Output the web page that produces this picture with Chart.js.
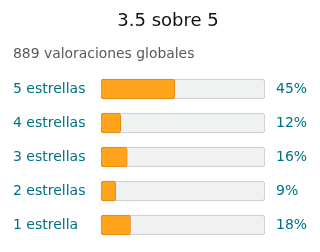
<!DOCTYPE html>
<html>
<head>
<meta charset="utf-8">
<script src="https://cdn.jsdelivr.net/npm/chart.js@4"></script>
<style>
  html, body { margin: 0; padding: 0; background: #fff; }
  #wrap { width: 320px; height: 252px; }
</style>
</head>
<body>
<div id="wrap"><canvas id="ratingChart"></canvas></div>
<script>
const titleText = '3.5 sobre 5';
const subtitleText = '889 valoraciones globales';
const starLabels = ['5 estrellas', '4 estrellas', '3 estrellas', '2 estrellas', '1 estrella'];
const percentValues = [45, 12, 16, 9, 18];
const trackValues = [100, 100, 100, 100, 100];
const percentLabels = percentValues.map(v => v + '%');

Chart.defaults.font.family = "'DejaVu Sans', sans-serif";

// draws the heading lines above the bars
const headerPlugin = {
  id: 'header',
  afterDraw(chart) {
    const ctx = chart.ctx;
    ctx.save();
    ctx.textBaseline = 'middle';
    ctx.fillStyle = '#0F1111';
    ctx.font = "18px 'DejaVu Sans', sans-serif";
    ctx.textAlign = 'center';
    ctx.fillText(titleText, 168, 21);
    ctx.fillStyle = '#565959';
    ctx.font = "13.9px 'DejaVu Sans', sans-serif";
    ctx.textAlign = 'left';
    ctx.fillText(subtitleText, 13, 54);
    ctx.restore();
  }
};

const ctx = document.getElementById('ratingChart').getContext('2d');

new Chart(ctx, {
  type: 'bar',
  data: {
    labels: starLabels,
    datasets: [
      {
        label: 'Porcentaje',
        data: percentValues,
        backgroundColor: '#FFA41C',
        borderColor: '#E08A12',
        borderWidth: 1,
        borderRadius: 3,
        borderSkipped: false,
        barThickness: 20,
        grouped: false
      },
      {
        label: 'Total',
        data: trackValues,
        backgroundColor: '#F0F2F2',
        borderColor: '#C3C7C7',
        borderWidth: 1,
        borderRadius: 4,
        borderSkipped: false,
        barThickness: 20,
        grouped: false
      }
    ]
  },
  options: {
    indexAxis: 'y',
    responsive: true,
    maintainAspectRatio: false,
    animation: false,
    layout: {
      padding: { left: 13, right: 0, top: 72, bottom: 10 }
    },
    plugins: {
      legend: { display: false },
      tooltip: { enabled: false },
      title: { display: false }
    },
    scales: {
      x: {
        min: 0,
        max: 100,
        display: false
      },
      y: {
        position: 'left',
        grid: { display: true, drawOnChartArea: false, tickLength: 18, color: 'transparent' },
        border: { display: false },
        ticks: {
          color: '#007185',
          font: { size: 14 },
          padding: 0,
          crossAlign: 'far'
        },
        afterFit(scale) { scale.width = 88; }
      },
      y2: {
        type: 'category',
        position: 'right',
        labels: percentLabels,
        offset: true,
        grid: { display: true, drawOnChartArea: false, tickLength: 11, color: 'transparent' },
        border: { display: false },
        ticks: {
          color: '#007185',
          font: { size: 14 },
          padding: 0
        },
        afterFit(scale) { scale.width = 55; }
      }
    }
  },
  plugins: [headerPlugin]
});
</script>
</body>
</html>
